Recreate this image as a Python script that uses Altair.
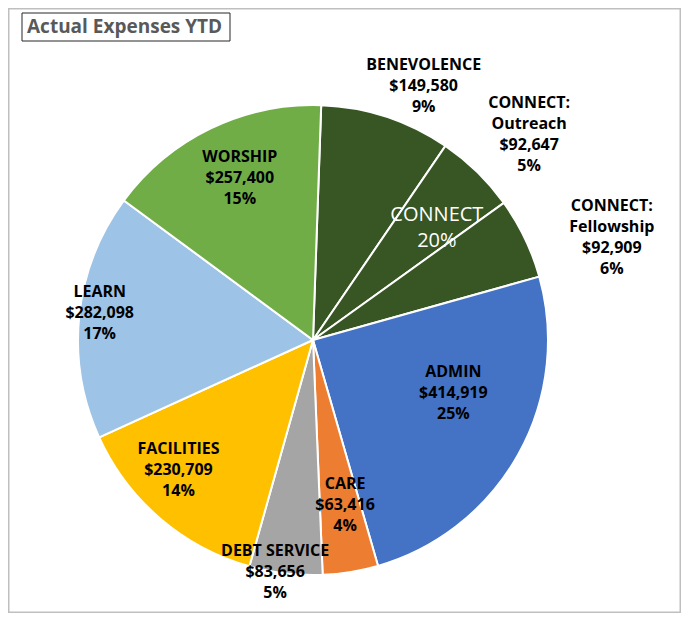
import math
import altair as alt
import pandas as pd

# ---- data ----
categories = ["BENEVOLENCE", "CONNECT: Outreach", "CONNECT: Fellowship", "ADMIN", "CARE",
              "DEBT SERVICE", "FACILITIES", "LEARN", "WORSHIP"]
label_names = ["BENEVOLENCE", "CONNECT:\nOutreach", "CONNECT:\nFellowship", "ADMIN", "CARE",
               "DEBT SERVICE", "FACILITIES", "LEARN", "WORSHIP"]
values = [149580, 92647, 92909, 414919, 63416, 83656, 230709, 282098, 257400]
percent_labels = ["9%", "5%", "6%", "25%", "4%", "5%", "14%", "17%", "15%"]
connect_members = ["BENEVOLENCE", "CONNECT: Outreach", "CONNECT: Fellowship"]
connect_label = "CONNECT\n20%"
title_text = "Actual Expenses YTD"

# ---- style (label placement: radius in px, angular nudge in degrees) ----
colors = ["#375623", "#375623", "#375623", "#4472C4", "#ED7D31",
          "#A5A5A5", "#FFC000", "#9DC3E6", "#70AD47"]
label_radius = [277, 298, 316, 150, 168, 235, 187, 215, 178]
label_nudge = [5.4, 2.2, 6.7, -8.5, -1.8, 2.6, 5.4, 1.2, 1.5]
group_radius = [167, 0]
group_nudge = [9.7, 0]
start = math.radians(2)
W, H = 673, 605
CX, CY, R = 305, 332, 235
LH = 21

labels_txt = [f"{n}\n${v:,}\n{p}" for n, v, p in zip(label_names, values, percent_labels)]
df = pd.DataFrame({
    "cat": categories,
    "value": values,
    "idx": list(range(len(categories))),
    "label": labels_txt,
    "nlines": [t.count("\n") + 1 for t in labels_txt],
    "lr": label_radius,
    "nudge": label_nudge,
})

connect_total = sum(v for c, v in zip(categories, values) if c in connect_members)
df_group = pd.DataFrame({
    "value": [connect_total, sum(values) - connect_total],
    "idx": [0, 1],
    "g": [connect_label, ""],
    "lr": group_radius,
    "nudge": group_nudge,
})

theta_scale = alt.Scale(range=[start, start + 2 * math.pi])


def with_mid(chart):
    return chart.transform_joinaggregate(
        total="sum(value)"
    ).transform_window(
        cum="sum(value)", sort=[alt.SortField("idx")], frame=[None, 0]
    ).transform_calculate(
        mid="datum.cum - datum.value / 2 + datum.nudge / 360 * datum.total"
    )


base = alt.Chart(df)

pie = base.mark_arc(radius=R, stroke="white", strokeWidth=2).encode(
    theta=alt.Theta("value:Q", stack=True, scale=theta_scale),
    order=alt.Order("idx:Q"),
    color=alt.Color("cat:N", scale=alt.Scale(domain=categories, range=colors), legend=None),
    x=alt.value(CX),
    y=alt.value(CY),
)


def label_layer(n):
    return with_mid(base).transform_filter(f"datum.nlines == {n}").mark_text(
        font="Open Sans", fontWeight="bold", fontSize=16, lineBreak="\n", lineHeight=LH,
        align="center", baseline="middle", color="black", dy=-(n - 1) * LH / 2,
    ).encode(
        theta=alt.Theta("mid:Q", stack=None, scale=theta_scale),
        radius=alt.Radius("lr:Q", scale=None),
        text="label:N",
        x=alt.value(CX),
        y=alt.value(CY),
    )


group_label = with_mid(alt.Chart(df_group)).mark_text(
    font="Open Sans", fontSize=20, lineBreak="\n", lineHeight=26,
    align="center", baseline="middle", color="white", dy=-13,
).encode(
    theta=alt.Theta("mid:Q", stack=None, scale=theta_scale),
    radius=alt.Radius("lr:Q", scale=None),
    text="g:N",
    x=alt.value(CX),
    y=alt.value(CY),
)

title_df = pd.DataFrame({"t": [title_text]})
title_box = alt.Chart(title_df).mark_rect(fill="white", stroke="#262626", strokeWidth=1).encode(
    x=alt.value(14), x2=alt.value(222), y=alt.value(5), y2=alt.value(33),
)
title_mark = alt.Chart(title_df).mark_text(
    font="Open Sans", fontWeight="bold", fontSize=19, color="#595959",
    align="left", baseline="middle",
).encode(x=alt.value(19), y=alt.value(19), text="t:N")

chart = alt.layer(pie, label_layer(3), label_layer(4), group_label, title_box, title_mark).properties(
    width=W, height=H, padding=0, autosize=alt.AutoSizeParams(type="none"),
    background="white",
).configure_view(stroke="#BFBFBF", strokeWidth=3)

chart.save("out.html", embed_options={"renderer": "svg", "actions": False})
